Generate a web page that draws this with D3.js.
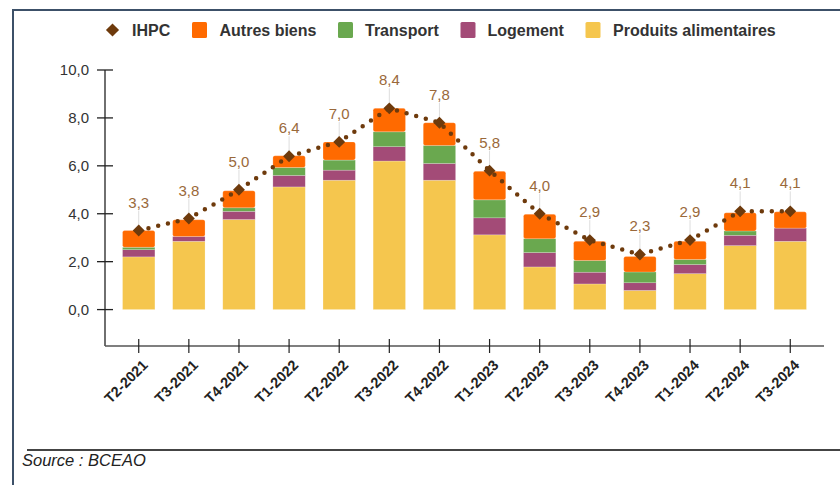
<!DOCTYPE html>
<html>
<head>
<meta charset="utf-8">
<script src="https://cdn.jsdelivr.net/npm/d3@7"></script>
<style>
  body { margin: 0; background: #fff; }
  svg { display: block; font-family: "Liberation Sans", Arial, sans-serif; }
</style>
</head>
<body>
<svg id="chart" width="840" height="485"></svg>
<script>
// quarters
var quarters = ["T2-2021", "T3-2021", "T4-2021", "T1-2022", "T2-2022", "T3-2022", "T4-2022",
  "T1-2023", "T2-2023", "T3-2023", "T4-2023", "T1-2024", "T2-2024", "T3-2024"];

// contributions (points de %)
var alimentaires = [2.2, 2.85, 3.76, 5.12, 5.4, 6.2, 5.4, 3.12, 1.78, 1.07, 0.8, 1.5, 2.67, 2.85];
var logement     = [0.3, 0.2, 0.34, 0.48, 0.42, 0.6, 0.7, 0.71, 0.6, 0.49, 0.32, 0.38, 0.43, 0.55];
var transport    = [0.1, 0.0, 0.15, 0.33, 0.42, 0.62, 0.75, 0.75, 0.58, 0.49, 0.45, 0.21, 0.18, 0.0];
var autres       = [0.7, 0.7, 0.71, 0.49, 0.76, 0.98, 0.95, 1.19, 1.02, 0.8, 0.65, 0.76, 0.76, 0.68];
var ihpc         = [3.3, 3.8, 5.0, 6.4, 7.0, 8.4, 7.8, 5.8, 4.0, 2.9, 2.3, 2.9, 4.1, 4.1];

var yTicks = [0, 2, 4, 6, 8, 10];

var series = [
  { key: "Produits alimentaires", values: alimentaires, color: "#F5C64E" },
  { key: "Logement", values: logement, color: "#A34B77" },
  { key: "Transport", values: transport, color: "#6AA84F" },
  { key: "Autres biens", values: autres, color: "#FF6A00" }
];

var svg = d3.select("#chart");

// frame
svg.append("path")
  .attr("d", "M13,485 L13,10 L840,10")
  .attr("fill", "none")
  .attr("stroke", "#3c5068")
  .attr("stroke-width", 2);

var x = d3.scaleBand()
  .domain(quarters)
  .range([105, 824])
  .paddingInner(0.354)
  .paddingOuter(0.35);

var y = d3.scaleLinear()
  .domain([-1.52, 10])
  .range([346, 70]);

// build stack rows
var rows = quarters.map(function (q, i) {
  var r = { q: q };
  series.forEach(function (s) { r[s.key] = s.values[i]; });
  return r;
});
var stack = d3.stack().keys(series.map(function (s) { return s.key; }));
var stacked = stack(rows);

var barsLayer = svg.append("g").attr("id", "bars_layer");
stacked.forEach(function (layer, li) {
  barsLayer.append("g")
    .attr("fill", series[li].color)
    .selectAll("rect")
    .data(layer)
    .enter().append("rect")
    .attr("x", function (d) { return x(d.data.q); })
    .attr("y", function (d) { return y(d[1]); })
    .attr("width", x.bandwidth())
    .attr("height", function (d) { return Math.max(0, y(d[0]) - y(d[1])); })
    .attr("rx", li === series.length - 1 ? 2 : 0)
    .attr("stroke", "#ffffff")
    .attr("stroke-opacity", 0.35)
    .attr("stroke-width", 0.6);
});

// axes
var axisColor = "#222";
var yAxis = svg.append("g").attr("id", "y_axis");
yAxis.append("line")
  .attr("x1", 105).attr("x2", 105)
  .attr("y1", y(10)).attr("y2", y(-1.52))
  .attr("stroke", axisColor).attr("stroke-width", 1.3);
yAxis.selectAll(".tick").data(yTicks).enter().append("line")
  .attr("x1", 97).attr("x2", 113)
  .attr("y1", function (d) { return y(d); })
  .attr("y2", function (d) { return y(d); })
  .attr("stroke", axisColor).attr("stroke-width", 1.3);
yAxis.selectAll(".lbl").data(yTicks).enter().append("text")
  .attr("x", 89)
  .attr("y", function (d) { return y(d) + 5; })
  .attr("text-anchor", "end")
  .attr("font-size", 15)
  .attr("fill", "#333")
  .text(function (d) { return d3.format(".1f")(d).replace(".", ","); });

var xAxis = svg.append("g").attr("id", "x_axis");
xAxis.append("line")
  .attr("x1", 105).attr("x2", 824)
  .attr("y1", y(-1.52)).attr("y2", y(-1.52))
  .attr("stroke", "#555").attr("stroke-width", 1.3);
xAxis.selectAll(".tick").data(quarters).enter().append("line")
  .attr("x1", function (d) { return x(d) + x.bandwidth() / 2; })
  .attr("x2", function (d) { return x(d) + x.bandwidth() / 2; })
  .attr("y1", 339).attr("y2", 353)
  .attr("stroke", axisColor).attr("stroke-width", 1.2);
xAxis.selectAll(".lbl").data(quarters).enter().append("text")
  .attr("transform", function (d) {
    return "translate(" + (x(d) + x.bandwidth() / 2 + 10) + ",366) rotate(-45)";
  })
  .attr("text-anchor", "end")
  .attr("font-size", 14.5)
  .attr("font-weight", "bold")
  .attr("fill", "#222")
  .text(function (d) { return d; });

// IHPC line
var cx = function (i) { return x(quarters[i]) + x.bandwidth() / 2; };
var brown = "#6E3A0C";

var lblLayer = svg.append("g").attr("id", "ihpc_labels");
lblLayer.selectAll("line").data(ihpc).enter().append("line")
  .attr("x1", function (d, i) { return cx(i); })
  .attr("x2", function (d, i) { return cx(i); })
  .attr("y1", function (d) { return y(d) - 20; })
  .attr("y2", function (d) { return y(d) - 4; })
  .attr("stroke", "#dddddd").attr("stroke-width", 1);

svg.append("path")
  .datum(ihpc)
  .attr("d", d3.line().x(function (d, i) { return cx(i); }).y(function (d) { return y(d); }))
  .attr("fill", "none")
  .attr("stroke", brown)
  .attr("stroke-width", 4.5)
  .attr("stroke-linecap", "round")
  .attr("stroke-dasharray", "0 10");

svg.append("g").selectAll("path").data(ihpc).enter().append("path")
  .attr("d", d3.symbol().type(d3.symbolDiamond2).size(90))
  .attr("transform", function (d, i) { return "translate(" + cx(i) + "," + y(d) + ")"; })
  .attr("fill", brown);

lblLayer.selectAll("text").data(ihpc).enter().append("text")
  .attr("x", function (d, i) { return cx(i); })
  .attr("y", function (d) { return y(d) - 23; })
  .attr("text-anchor", "middle")
  .attr("font-size", 15)
  .attr("fill", "#9A693A")
  .text(function (d) { return d3.format(".1f")(d).replace(".", ","); });

// legend
var legend = svg.append("g").attr("id", "legend_layer");
var legendItems = [
  { key: "IHPC", color: brown, mx: 112.5, tx: 132 },
  { key: "Autres biens", color: series[3].color, mx: 192, tx: 219.5 },
  { key: "Transport", color: series[2].color, mx: 338, tx: 365 },
  { key: "Logement", color: series[1].color, mx: 460.5, tx: 487.5 },
  { key: "Produits alimentaires", color: series[0].color, mx: 585.5, tx: 613 }
];
legendItems.forEach(function (it, i) {
  if (i === 0) {
    legend.append("path")
      .attr("d", d3.symbol().type(d3.symbolDiamond2).size(110))
      .attr("transform", "translate(" + it.mx + ",30)")
      .attr("fill", it.color);
  } else {
    legend.append("rect")
      .attr("x", it.mx).attr("y", 22)
      .attr("width", 15).attr("height", 16)
      .attr("rx", 1.5)
      .attr("fill", it.color);
  }
  legend.append("text")
    .attr("x", it.tx).attr("y", 35.5)
    .attr("font-size", 16)
    .attr("font-weight", "bold")
    .attr("fill", "#333")
    .text(it.key);
});

// source
svg.append("line")
  .attr("x1", 27).attr("x2", 840)
  .attr("y1", 450).attr("y2", 450)
  .attr("stroke", "#444").attr("stroke-width", 2);
svg.append("text")
  .attr("x", 22).attr("y", 466)
  .attr("font-size", 16.5)
  .attr("font-style", "italic")
  .attr("fill", "#222")
  .text("Source : BCEAO");
</script>
</body>
</html>
